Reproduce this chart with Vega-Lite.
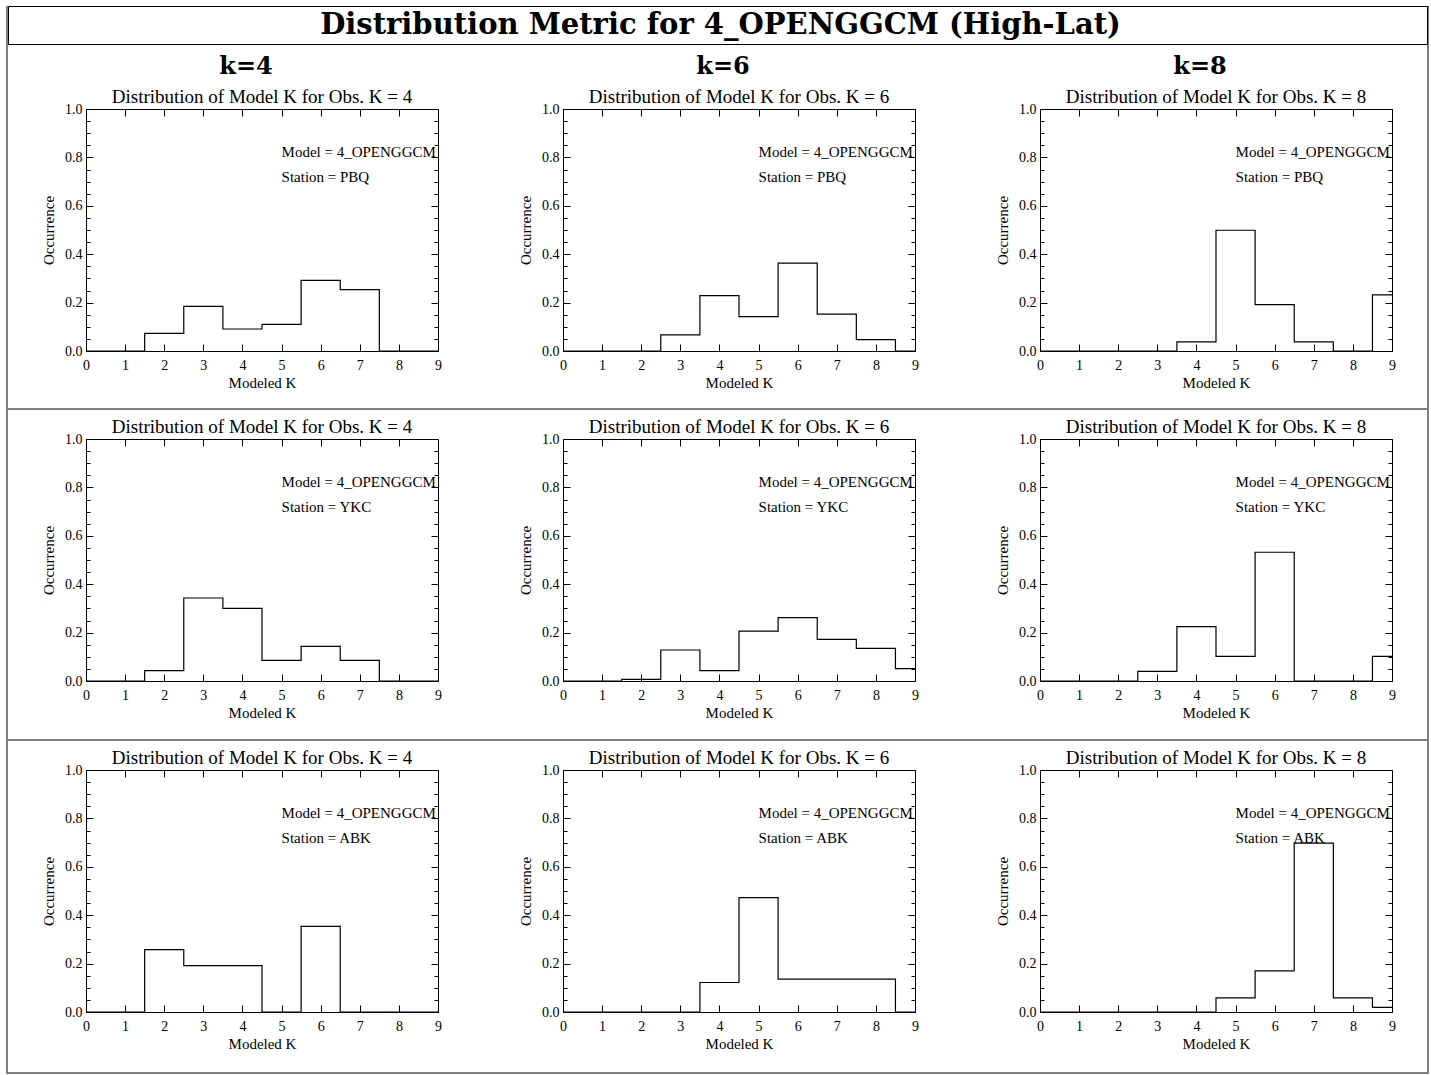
{
  "$schema": "https://vega.github.io/schema/vega-lite/v6.json",
  "padding": {"left": 6, "top": 5, "right": 5, "bottom": 1},
  "background": "white",
  "config": {
    "font": "Liberation Serif",
    "view": {"stroke": null},
    "axis": {"labelFont": "Liberation Serif", "titleFont": "Liberation Serif", "labelColor": "black", "titleColor": "black", "domainColor": "black", "tickColor": "black", "labelFontSize": 14, "titleFontSize": 15, "titleFontWeight": "normal", "grid": false, "labelFlush": false, "labelOverlap": false, "domainWidth": 1, "tickWidth": 1},
    "title": {"font": "Liberation Serif", "fontSize": 19, "fontWeight": "normal", "color": "black", "frame": "group", "anchor": "middle", "offset": -5},
    "text": {"font": "Liberation Serif", "color": "black"},
    "rule": {"color": "black", "strokeWidth": 1}
  },
  "datasets": {
    "one": [{"n": 1}],
    "cols": [{"col": "k=4"}, {"col": "k=6"}, {"col": "k=8"}],
    "head": [{"t": "Distribution Metric for 4_OPENGGCM (High-Lat)"}],
    "ann": [
      {"st": "PBQ", "model": "Model = 4_OPENGGCM", "station": "Station = PBQ"},
      {"st": "YKC", "model": "Model = 4_OPENGGCM", "station": "Station = YKC"},
      {"st": "ABK", "model": "Model = 4_OPENGGCM", "station": "Station = ABK"}
    ],
    "hist": [
      {"st":"PBQ","obs":4,"k":0,"occ":0},{"st":"PBQ","obs":4,"k":1,"occ":0},{"st":"PBQ","obs":4,"k":2,"occ":0.073},{"st":"PBQ","obs":4,"k":3,"occ":0.184},{"st":"PBQ","obs":4,"k":4,"occ":0.091},{"st":"PBQ","obs":4,"k":5,"occ":0.11},{"st":"PBQ","obs":4,"k":6,"occ":0.292},{"st":"PBQ","obs":4,"k":7,"occ":0.254},{"st":"PBQ","obs":4,"k":8,"occ":0},{"st":"PBQ","obs":4,"k":9,"occ":0},
      {"st":"PBQ","obs":6,"k":0,"occ":0},{"st":"PBQ","obs":6,"k":1,"occ":0},{"st":"PBQ","obs":6,"k":2,"occ":0},{"st":"PBQ","obs":6,"k":3,"occ":0.067},{"st":"PBQ","obs":6,"k":4,"occ":0.229},{"st":"PBQ","obs":6,"k":5,"occ":0.142},{"st":"PBQ","obs":6,"k":6,"occ":0.363},{"st":"PBQ","obs":6,"k":7,"occ":0.152},{"st":"PBQ","obs":6,"k":8,"occ":0.047},{"st":"PBQ","obs":6,"k":9,"occ":0},
      {"st":"PBQ","obs":8,"k":0,"occ":0},{"st":"PBQ","obs":8,"k":1,"occ":0},{"st":"PBQ","obs":8,"k":2,"occ":0},{"st":"PBQ","obs":8,"k":3,"occ":0},{"st":"PBQ","obs":8,"k":4,"occ":0.038},{"st":"PBQ","obs":8,"k":5,"occ":0.499},{"st":"PBQ","obs":8,"k":6,"occ":0.192},{"st":"PBQ","obs":8,"k":7,"occ":0.038},{"st":"PBQ","obs":8,"k":8,"occ":0},{"st":"PBQ","obs":8,"k":9,"occ":0.232},
      {"st":"YKC","obs":4,"k":0,"occ":0},{"st":"YKC","obs":4,"k":1,"occ":0},{"st":"YKC","obs":4,"k":2,"occ":0.043},{"st":"YKC","obs":4,"k":3,"occ":0.343},{"st":"YKC","obs":4,"k":4,"occ":0.3},{"st":"YKC","obs":4,"k":5,"occ":0.085},{"st":"YKC","obs":4,"k":6,"occ":0.143},{"st":"YKC","obs":4,"k":7,"occ":0.085},{"st":"YKC","obs":4,"k":8,"occ":0},{"st":"YKC","obs":4,"k":9,"occ":0},
      {"st":"YKC","obs":6,"k":0,"occ":0},{"st":"YKC","obs":6,"k":1,"occ":0},{"st":"YKC","obs":6,"k":2,"occ":0.007},{"st":"YKC","obs":6,"k":3,"occ":0.128},{"st":"YKC","obs":6,"k":4,"occ":0.043},{"st":"YKC","obs":6,"k":5,"occ":0.206},{"st":"YKC","obs":6,"k":6,"occ":0.262},{"st":"YKC","obs":6,"k":7,"occ":0.172},{"st":"YKC","obs":6,"k":8,"occ":0.135},{"st":"YKC","obs":6,"k":9,"occ":0.051},
      {"st":"YKC","obs":8,"k":0,"occ":0},{"st":"YKC","obs":8,"k":1,"occ":0},{"st":"YKC","obs":8,"k":2,"occ":0},{"st":"YKC","obs":8,"k":3,"occ":0.04},{"st":"YKC","obs":8,"k":4,"occ":0.225},{"st":"YKC","obs":8,"k":5,"occ":0.102},{"st":"YKC","obs":8,"k":6,"occ":0.532},{"st":"YKC","obs":8,"k":7,"occ":0},{"st":"YKC","obs":8,"k":8,"occ":0},{"st":"YKC","obs":8,"k":9,"occ":0.102},
      {"st":"ABK","obs":4,"k":0,"occ":0},{"st":"ABK","obs":4,"k":1,"occ":0},{"st":"ABK","obs":4,"k":2,"occ":0.258},{"st":"ABK","obs":4,"k":3,"occ":0.192},{"st":"ABK","obs":4,"k":4,"occ":0.192},{"st":"ABK","obs":4,"k":5,"occ":0},{"st":"ABK","obs":4,"k":6,"occ":0.354},{"st":"ABK","obs":4,"k":7,"occ":0},{"st":"ABK","obs":4,"k":8,"occ":0},{"st":"ABK","obs":4,"k":9,"occ":0},
      {"st":"ABK","obs":6,"k":0,"occ":0},{"st":"ABK","obs":6,"k":1,"occ":0},{"st":"ABK","obs":6,"k":2,"occ":0},{"st":"ABK","obs":6,"k":3,"occ":0},{"st":"ABK","obs":6,"k":4,"occ":0.122},{"st":"ABK","obs":6,"k":5,"occ":0.473},{"st":"ABK","obs":6,"k":6,"occ":0.136},{"st":"ABK","obs":6,"k":7,"occ":0.136},{"st":"ABK","obs":6,"k":8,"occ":0.136},{"st":"ABK","obs":6,"k":9,"occ":0},
      {"st":"ABK","obs":8,"k":0,"occ":0},{"st":"ABK","obs":8,"k":1,"occ":0},{"st":"ABK","obs":8,"k":2,"occ":0},{"st":"ABK","obs":8,"k":3,"occ":0},{"st":"ABK","obs":8,"k":4,"occ":0},{"st":"ABK","obs":8,"k":5,"occ":0.058},{"st":"ABK","obs":8,"k":6,"occ":0.17},{"st":"ABK","obs":8,"k":7,"occ":0.698},{"st":"ABK","obs":8,"k":8,"occ":0.058},{"st":"ABK","obs":8,"k":9,"occ":0.019}
    ]
  },
  "hconcat": [
    {"width": 1, "height": 1068, "data": {"name": "one"}, "mark": {"type": "rule"}, "encoding": {"x": {"datum": 0, "type": "quantitative", "scale": {"domain": [0, 1]}, "axis": null}}},
    {
      "spacing": 8,
      "vconcat": [
        {"width": 1419, "height": 38, "view": {"stroke": "black", "strokeWidth": 1}, "data": {"name": "head"}, "mark": {"type": "text", "font": "DejaVu Serif", "fontWeight": "bold", "fontSize": 29, "baseline": "middle", "align": "center", "dx": 3}, "encoding": {"text": {"field": "t"}}},
        {"width": 1419, "height": 27, "data": {"name": "cols"}, "mark": {"type": "text", "font": "DejaVu Serif", "fontWeight": "bold", "fontSize": 24, "baseline": "middle", "align": "center"}, "encoding": {"x": {"field": "col", "type": "nominal", "scale": {"type": "point", "padding": 0, "range": [238, 1192]}, "axis": null}, "text": {"field": "col"}}},
        {
          "spacing": 32,
          "hconcat": [
            {"width": 1, "height": 1, "data": {"name": "one"}, "mark": {"type": "rule", "strokeOpacity": 0}, "encoding": {"x": {"datum": 0, "type": "quantitative", "scale": {"domain": [0, 1]}, "axis": null}}},
            {
              "spacing": 125, "bounds": "flush",
              "hconcat": [
                {"width": 352, "height": 242, "title": "Distribution of Model K for Obs. K = 4", "resolve": {"axis": {"x": "independent", "y": "independent"}}, "layer": [
                  {"data": {"name": "hist"}, "transform": [{"filter": "datum.st === 'PBQ' && datum.obs === 4"}], "mark": {"type": "line", "interpolate": "step", "color": "black", "strokeWidth": 1.2}, "encoding": {"x": {"field": "k", "type": "quantitative", "scale": {"domain": [0, 9], "nice": false, "zero": false}, "axis": {"orient": "bottom", "values": [0,1,2,3,4,5,6,7,8,9], "tickSize": -7, "labelPadding": 14, "title": "Modeled K", "titlePadding": 3}}, "y": {"field": "occ", "type": "quantitative", "scale": {"domain": [0, 1], "nice": false}, "axis": {"orient": "left", "values": [0,0.05,0.1,0.15,0.2,0.25,0.3,0.35,0.4,0.45,0.5,0.55,0.6,0.65,0.7,0.75,0.8,0.85,0.9,0.95,1], "labelExpr": "round(datum.value*20) % 4 === 0 ? format(datum.value, '.1f') : ''", "tickSize": {"condition": {"test": "round(datum.value*20) % 4 === 0", "value": -7}, "value": -4}, "labelPadding": 11, "title": "Occurrence", "titlePadding": 8}}}},
                  {"data": {"name": "hist"}, "transform": [{"filter": "datum.st === 'PBQ' && datum.obs === 4"}], "mark": {"type": "line", "interpolate": "step", "strokeOpacity": 0}, "encoding": {"x": {"field": "k", "type": "quantitative", "scale": {"domain": [0, 9], "nice": false, "zero": false}, "axis": {"orient": "top", "values": [0,1,2,3,4,5,6,7,8,9], "tickSize": -7, "labels": false, "title": null}}, "y": {"field": "occ", "type": "quantitative", "scale": {"domain": [0, 1], "nice": false}, "axis": {"orient": "right", "values": [0,0.05,0.1,0.15,0.2,0.25,0.3,0.35,0.4,0.45,0.5,0.55,0.6,0.65,0.7,0.75,0.8,0.85,0.9,0.95,1], "labels": false, "tickSize": {"condition": {"test": "round(datum.value*20) % 4 === 0", "value": -7}, "value": -4}, "title": null}}}},
                  {"data": {"name": "ann"}, "transform": [{"filter": "datum.st === 'PBQ'"}], "mark": {"type": "text", "align": "left", "baseline": "alphabetic", "fontSize": 15}, "encoding": {"x": {"datum": 5, "type": "quantitative", "axis": null}, "y": {"datum": 0.8, "type": "quantitative", "axis": null}, "text": {"field": "model"}}},
                  {"data": {"name": "ann"}, "transform": [{"filter": "datum.st === 'PBQ'"}], "mark": {"type": "text", "align": "left", "baseline": "alphabetic", "fontSize": 15}, "encoding": {"x": {"datum": 5, "type": "quantitative", "axis": null}, "y": {"datum": 0.7, "type": "quantitative", "axis": null}, "text": {"field": "station"}}}
                ]},
                {"width": 352, "height": 242, "title": "Distribution of Model K for Obs. K = 6", "resolve": {"axis": {"x": "independent", "y": "independent"}}, "layer": [
                  {"data": {"name": "hist"}, "transform": [{"filter": "datum.st === 'PBQ' && datum.obs === 6"}], "mark": {"type": "line", "interpolate": "step", "color": "black", "strokeWidth": 1.2}, "encoding": {"x": {"field": "k", "type": "quantitative", "scale": {"domain": [0, 9], "nice": false, "zero": false}, "axis": {"orient": "bottom", "values": [0,1,2,3,4,5,6,7,8,9], "tickSize": -7, "labelPadding": 14, "title": "Modeled K", "titlePadding": 3}}, "y": {"field": "occ", "type": "quantitative", "scale": {"domain": [0, 1], "nice": false}, "axis": {"orient": "left", "values": [0,0.05,0.1,0.15,0.2,0.25,0.3,0.35,0.4,0.45,0.5,0.55,0.6,0.65,0.7,0.75,0.8,0.85,0.9,0.95,1], "labelExpr": "round(datum.value*20) % 4 === 0 ? format(datum.value, '.1f') : ''", "tickSize": {"condition": {"test": "round(datum.value*20) % 4 === 0", "value": -7}, "value": -4}, "labelPadding": 11, "title": "Occurrence", "titlePadding": 8}}}},
                  {"data": {"name": "hist"}, "transform": [{"filter": "datum.st === 'PBQ' && datum.obs === 6"}], "mark": {"type": "line", "interpolate": "step", "strokeOpacity": 0}, "encoding": {"x": {"field": "k", "type": "quantitative", "scale": {"domain": [0, 9], "nice": false, "zero": false}, "axis": {"orient": "top", "values": [0,1,2,3,4,5,6,7,8,9], "tickSize": -7, "labels": false, "title": null}}, "y": {"field": "occ", "type": "quantitative", "scale": {"domain": [0, 1], "nice": false}, "axis": {"orient": "right", "values": [0,0.05,0.1,0.15,0.2,0.25,0.3,0.35,0.4,0.45,0.5,0.55,0.6,0.65,0.7,0.75,0.8,0.85,0.9,0.95,1], "labels": false, "tickSize": {"condition": {"test": "round(datum.value*20) % 4 === 0", "value": -7}, "value": -4}, "title": null}}}},
                  {"data": {"name": "ann"}, "transform": [{"filter": "datum.st === 'PBQ'"}], "mark": {"type": "text", "align": "left", "baseline": "alphabetic", "fontSize": 15}, "encoding": {"x": {"datum": 5, "type": "quantitative", "axis": null}, "y": {"datum": 0.8, "type": "quantitative", "axis": null}, "text": {"field": "model"}}},
                  {"data": {"name": "ann"}, "transform": [{"filter": "datum.st === 'PBQ'"}], "mark": {"type": "text", "align": "left", "baseline": "alphabetic", "fontSize": 15}, "encoding": {"x": {"datum": 5, "type": "quantitative", "axis": null}, "y": {"datum": 0.7, "type": "quantitative", "axis": null}, "text": {"field": "station"}}}
                ]},
                {"width": 352, "height": 242, "title": "Distribution of Model K for Obs. K = 8", "resolve": {"axis": {"x": "independent", "y": "independent"}}, "layer": [
                  {"data": {"name": "hist"}, "transform": [{"filter": "datum.st === 'PBQ' && datum.obs === 8"}], "mark": {"type": "line", "interpolate": "step", "color": "black", "strokeWidth": 1.2}, "encoding": {"x": {"field": "k", "type": "quantitative", "scale": {"domain": [0, 9], "nice": false, "zero": false}, "axis": {"orient": "bottom", "values": [0,1,2,3,4,5,6,7,8,9], "tickSize": -7, "labelPadding": 14, "title": "Modeled K", "titlePadding": 3}}, "y": {"field": "occ", "type": "quantitative", "scale": {"domain": [0, 1], "nice": false}, "axis": {"orient": "left", "values": [0,0.05,0.1,0.15,0.2,0.25,0.3,0.35,0.4,0.45,0.5,0.55,0.6,0.65,0.7,0.75,0.8,0.85,0.9,0.95,1], "labelExpr": "round(datum.value*20) % 4 === 0 ? format(datum.value, '.1f') : ''", "tickSize": {"condition": {"test": "round(datum.value*20) % 4 === 0", "value": -7}, "value": -4}, "labelPadding": 11, "title": "Occurrence", "titlePadding": 8}}}},
                  {"data": {"name": "hist"}, "transform": [{"filter": "datum.st === 'PBQ' && datum.obs === 8"}], "mark": {"type": "line", "interpolate": "step", "strokeOpacity": 0}, "encoding": {"x": {"field": "k", "type": "quantitative", "scale": {"domain": [0, 9], "nice": false, "zero": false}, "axis": {"orient": "top", "values": [0,1,2,3,4,5,6,7,8,9], "tickSize": -7, "labels": false, "title": null}}, "y": {"field": "occ", "type": "quantitative", "scale": {"domain": [0, 1], "nice": false}, "axis": {"orient": "right", "values": [0,0.05,0.1,0.15,0.2,0.25,0.3,0.35,0.4,0.45,0.5,0.55,0.6,0.65,0.7,0.75,0.8,0.85,0.9,0.95,1], "labels": false, "tickSize": {"condition": {"test": "round(datum.value*20) % 4 === 0", "value": -7}, "value": -4}, "title": null}}}},
                  {"data": {"name": "ann"}, "transform": [{"filter": "datum.st === 'PBQ'"}], "mark": {"type": "text", "align": "left", "baseline": "alphabetic", "fontSize": 15}, "encoding": {"x": {"datum": 5, "type": "quantitative", "axis": null}, "y": {"datum": 0.8, "type": "quantitative", "axis": null}, "text": {"field": "model"}}},
                  {"data": {"name": "ann"}, "transform": [{"filter": "datum.st === 'PBQ'"}], "mark": {"type": "text", "align": "left", "baseline": "alphabetic", "fontSize": 15}, "encoding": {"x": {"datum": 5, "type": "quantitative", "axis": null}, "y": {"datum": 0.7, "type": "quantitative", "axis": null}, "text": {"field": "station"}}}
                ]}
              ]
            }
          ]
        },
        {"width": 1419, "height": 11, "data": {"name": "one"}, "mark": {"type": "rule"}, "encoding": {"y": {"datum": 0, "type": "quantitative", "scale": {"domain": [0, 1]}, "axis": null}}},
        {
          "spacing": 32,
          "hconcat": [
            {"width": 1, "height": 1, "data": {"name": "one"}, "mark": {"type": "rule", "strokeOpacity": 0}, "encoding": {"x": {"datum": 0, "type": "quantitative", "scale": {"domain": [0, 1]}, "axis": null}}},
            {
              "spacing": 125, "bounds": "flush",
              "hconcat": [
                {"width": 352, "height": 242, "title": "Distribution of Model K for Obs. K = 4", "resolve": {"axis": {"x": "independent", "y": "independent"}}, "layer": [
                  {"data": {"name": "hist"}, "transform": [{"filter": "datum.st === 'YKC' && datum.obs === 4"}], "mark": {"type": "line", "interpolate": "step", "color": "black", "strokeWidth": 1.2}, "encoding": {"x": {"field": "k", "type": "quantitative", "scale": {"domain": [0, 9], "nice": false, "zero": false}, "axis": {"orient": "bottom", "values": [0,1,2,3,4,5,6,7,8,9], "tickSize": -7, "labelPadding": 14, "title": "Modeled K", "titlePadding": 3}}, "y": {"field": "occ", "type": "quantitative", "scale": {"domain": [0, 1], "nice": false}, "axis": {"orient": "left", "values": [0,0.05,0.1,0.15,0.2,0.25,0.3,0.35,0.4,0.45,0.5,0.55,0.6,0.65,0.7,0.75,0.8,0.85,0.9,0.95,1], "labelExpr": "round(datum.value*20) % 4 === 0 ? format(datum.value, '.1f') : ''", "tickSize": {"condition": {"test": "round(datum.value*20) % 4 === 0", "value": -7}, "value": -4}, "labelPadding": 11, "title": "Occurrence", "titlePadding": 8}}}},
                  {"data": {"name": "hist"}, "transform": [{"filter": "datum.st === 'YKC' && datum.obs === 4"}], "mark": {"type": "line", "interpolate": "step", "strokeOpacity": 0}, "encoding": {"x": {"field": "k", "type": "quantitative", "scale": {"domain": [0, 9], "nice": false, "zero": false}, "axis": {"orient": "top", "values": [0,1,2,3,4,5,6,7,8,9], "tickSize": -7, "labels": false, "title": null}}, "y": {"field": "occ", "type": "quantitative", "scale": {"domain": [0, 1], "nice": false}, "axis": {"orient": "right", "values": [0,0.05,0.1,0.15,0.2,0.25,0.3,0.35,0.4,0.45,0.5,0.55,0.6,0.65,0.7,0.75,0.8,0.85,0.9,0.95,1], "labels": false, "tickSize": {"condition": {"test": "round(datum.value*20) % 4 === 0", "value": -7}, "value": -4}, "title": null}}}},
                  {"data": {"name": "ann"}, "transform": [{"filter": "datum.st === 'YKC'"}], "mark": {"type": "text", "align": "left", "baseline": "alphabetic", "fontSize": 15}, "encoding": {"x": {"datum": 5, "type": "quantitative", "axis": null}, "y": {"datum": 0.8, "type": "quantitative", "axis": null}, "text": {"field": "model"}}},
                  {"data": {"name": "ann"}, "transform": [{"filter": "datum.st === 'YKC'"}], "mark": {"type": "text", "align": "left", "baseline": "alphabetic", "fontSize": 15}, "encoding": {"x": {"datum": 5, "type": "quantitative", "axis": null}, "y": {"datum": 0.7, "type": "quantitative", "axis": null}, "text": {"field": "station"}}}
                ]},
                {"width": 352, "height": 242, "title": "Distribution of Model K for Obs. K = 6", "resolve": {"axis": {"x": "independent", "y": "independent"}}, "layer": [
                  {"data": {"name": "hist"}, "transform": [{"filter": "datum.st === 'YKC' && datum.obs === 6"}], "mark": {"type": "line", "interpolate": "step", "color": "black", "strokeWidth": 1.2}, "encoding": {"x": {"field": "k", "type": "quantitative", "scale": {"domain": [0, 9], "nice": false, "zero": false}, "axis": {"orient": "bottom", "values": [0,1,2,3,4,5,6,7,8,9], "tickSize": -7, "labelPadding": 14, "title": "Modeled K", "titlePadding": 3}}, "y": {"field": "occ", "type": "quantitative", "scale": {"domain": [0, 1], "nice": false}, "axis": {"orient": "left", "values": [0,0.05,0.1,0.15,0.2,0.25,0.3,0.35,0.4,0.45,0.5,0.55,0.6,0.65,0.7,0.75,0.8,0.85,0.9,0.95,1], "labelExpr": "round(datum.value*20) % 4 === 0 ? format(datum.value, '.1f') : ''", "tickSize": {"condition": {"test": "round(datum.value*20) % 4 === 0", "value": -7}, "value": -4}, "labelPadding": 11, "title": "Occurrence", "titlePadding": 8}}}},
                  {"data": {"name": "hist"}, "transform": [{"filter": "datum.st === 'YKC' && datum.obs === 6"}], "mark": {"type": "line", "interpolate": "step", "strokeOpacity": 0}, "encoding": {"x": {"field": "k", "type": "quantitative", "scale": {"domain": [0, 9], "nice": false, "zero": false}, "axis": {"orient": "top", "values": [0,1,2,3,4,5,6,7,8,9], "tickSize": -7, "labels": false, "title": null}}, "y": {"field": "occ", "type": "quantitative", "scale": {"domain": [0, 1], "nice": false}, "axis": {"orient": "right", "values": [0,0.05,0.1,0.15,0.2,0.25,0.3,0.35,0.4,0.45,0.5,0.55,0.6,0.65,0.7,0.75,0.8,0.85,0.9,0.95,1], "labels": false, "tickSize": {"condition": {"test": "round(datum.value*20) % 4 === 0", "value": -7}, "value": -4}, "title": null}}}},
                  {"data": {"name": "ann"}, "transform": [{"filter": "datum.st === 'YKC'"}], "mark": {"type": "text", "align": "left", "baseline": "alphabetic", "fontSize": 15}, "encoding": {"x": {"datum": 5, "type": "quantitative", "axis": null}, "y": {"datum": 0.8, "type": "quantitative", "axis": null}, "text": {"field": "model"}}},
                  {"data": {"name": "ann"}, "transform": [{"filter": "datum.st === 'YKC'"}], "mark": {"type": "text", "align": "left", "baseline": "alphabetic", "fontSize": 15}, "encoding": {"x": {"datum": 5, "type": "quantitative", "axis": null}, "y": {"datum": 0.7, "type": "quantitative", "axis": null}, "text": {"field": "station"}}}
                ]},
                {"width": 352, "height": 242, "title": "Distribution of Model K for Obs. K = 8", "resolve": {"axis": {"x": "independent", "y": "independent"}}, "layer": [
                  {"data": {"name": "hist"}, "transform": [{"filter": "datum.st === 'YKC' && datum.obs === 8"}], "mark": {"type": "line", "interpolate": "step", "color": "black", "strokeWidth": 1.2}, "encoding": {"x": {"field": "k", "type": "quantitative", "scale": {"domain": [0, 9], "nice": false, "zero": false}, "axis": {"orient": "bottom", "values": [0,1,2,3,4,5,6,7,8,9], "tickSize": -7, "labelPadding": 14, "title": "Modeled K", "titlePadding": 3}}, "y": {"field": "occ", "type": "quantitative", "scale": {"domain": [0, 1], "nice": false}, "axis": {"orient": "left", "values": [0,0.05,0.1,0.15,0.2,0.25,0.3,0.35,0.4,0.45,0.5,0.55,0.6,0.65,0.7,0.75,0.8,0.85,0.9,0.95,1], "labelExpr": "round(datum.value*20) % 4 === 0 ? format(datum.value, '.1f') : ''", "tickSize": {"condition": {"test": "round(datum.value*20) % 4 === 0", "value": -7}, "value": -4}, "labelPadding": 11, "title": "Occurrence", "titlePadding": 8}}}},
                  {"data": {"name": "hist"}, "transform": [{"filter": "datum.st === 'YKC' && datum.obs === 8"}], "mark": {"type": "line", "interpolate": "step", "strokeOpacity": 0}, "encoding": {"x": {"field": "k", "type": "quantitative", "scale": {"domain": [0, 9], "nice": false, "zero": false}, "axis": {"orient": "top", "values": [0,1,2,3,4,5,6,7,8,9], "tickSize": -7, "labels": false, "title": null}}, "y": {"field": "occ", "type": "quantitative", "scale": {"domain": [0, 1], "nice": false}, "axis": {"orient": "right", "values": [0,0.05,0.1,0.15,0.2,0.25,0.3,0.35,0.4,0.45,0.5,0.55,0.6,0.65,0.7,0.75,0.8,0.85,0.9,0.95,1], "labels": false, "tickSize": {"condition": {"test": "round(datum.value*20) % 4 === 0", "value": -7}, "value": -4}, "title": null}}}},
                  {"data": {"name": "ann"}, "transform": [{"filter": "datum.st === 'YKC'"}], "mark": {"type": "text", "align": "left", "baseline": "alphabetic", "fontSize": 15}, "encoding": {"x": {"datum": 5, "type": "quantitative", "axis": null}, "y": {"datum": 0.8, "type": "quantitative", "axis": null}, "text": {"field": "model"}}},
                  {"data": {"name": "ann"}, "transform": [{"filter": "datum.st === 'YKC'"}], "mark": {"type": "text", "align": "left", "baseline": "alphabetic", "fontSize": 15}, "encoding": {"x": {"datum": 5, "type": "quantitative", "axis": null}, "y": {"datum": 0.7, "type": "quantitative", "axis": null}, "text": {"field": "station"}}}
                ]}
              ]
            }
          ]
        },
        {"width": 1419, "height": 12, "data": {"name": "one"}, "mark": {"type": "rule"}, "encoding": {"y": {"datum": 0, "type": "quantitative", "scale": {"domain": [0, 1]}, "axis": null}}},
        {
          "spacing": 32,
          "hconcat": [
            {"width": 1, "height": 1, "data": {"name": "one"}, "mark": {"type": "rule", "strokeOpacity": 0}, "encoding": {"x": {"datum": 0, "type": "quantitative", "scale": {"domain": [0, 1]}, "axis": null}}},
            {
              "spacing": 125, "bounds": "flush",
              "hconcat": [
                {"width": 352, "height": 242, "title": "Distribution of Model K for Obs. K = 4", "resolve": {"axis": {"x": "independent", "y": "independent"}}, "layer": [
                  {"data": {"name": "hist"}, "transform": [{"filter": "datum.st === 'ABK' && datum.obs === 4"}], "mark": {"type": "line", "interpolate": "step", "color": "black", "strokeWidth": 1.2}, "encoding": {"x": {"field": "k", "type": "quantitative", "scale": {"domain": [0, 9], "nice": false, "zero": false}, "axis": {"orient": "bottom", "values": [0,1,2,3,4,5,6,7,8,9], "tickSize": -7, "labelPadding": 14, "title": "Modeled K", "titlePadding": 3}}, "y": {"field": "occ", "type": "quantitative", "scale": {"domain": [0, 1], "nice": false}, "axis": {"orient": "left", "values": [0,0.05,0.1,0.15,0.2,0.25,0.3,0.35,0.4,0.45,0.5,0.55,0.6,0.65,0.7,0.75,0.8,0.85,0.9,0.95,1], "labelExpr": "round(datum.value*20) % 4 === 0 ? format(datum.value, '.1f') : ''", "tickSize": {"condition": {"test": "round(datum.value*20) % 4 === 0", "value": -7}, "value": -4}, "labelPadding": 11, "title": "Occurrence", "titlePadding": 8}}}},
                  {"data": {"name": "hist"}, "transform": [{"filter": "datum.st === 'ABK' && datum.obs === 4"}], "mark": {"type": "line", "interpolate": "step", "strokeOpacity": 0}, "encoding": {"x": {"field": "k", "type": "quantitative", "scale": {"domain": [0, 9], "nice": false, "zero": false}, "axis": {"orient": "top", "values": [0,1,2,3,4,5,6,7,8,9], "tickSize": -7, "labels": false, "title": null}}, "y": {"field": "occ", "type": "quantitative", "scale": {"domain": [0, 1], "nice": false}, "axis": {"orient": "right", "values": [0,0.05,0.1,0.15,0.2,0.25,0.3,0.35,0.4,0.45,0.5,0.55,0.6,0.65,0.7,0.75,0.8,0.85,0.9,0.95,1], "labels": false, "tickSize": {"condition": {"test": "round(datum.value*20) % 4 === 0", "value": -7}, "value": -4}, "title": null}}}},
                  {"data": {"name": "ann"}, "transform": [{"filter": "datum.st === 'ABK'"}], "mark": {"type": "text", "align": "left", "baseline": "alphabetic", "fontSize": 15}, "encoding": {"x": {"datum": 5, "type": "quantitative", "axis": null}, "y": {"datum": 0.8, "type": "quantitative", "axis": null}, "text": {"field": "model"}}},
                  {"data": {"name": "ann"}, "transform": [{"filter": "datum.st === 'ABK'"}], "mark": {"type": "text", "align": "left", "baseline": "alphabetic", "fontSize": 15}, "encoding": {"x": {"datum": 5, "type": "quantitative", "axis": null}, "y": {"datum": 0.7, "type": "quantitative", "axis": null}, "text": {"field": "station"}}}
                ]},
                {"width": 352, "height": 242, "title": "Distribution of Model K for Obs. K = 6", "resolve": {"axis": {"x": "independent", "y": "independent"}}, "layer": [
                  {"data": {"name": "hist"}, "transform": [{"filter": "datum.st === 'ABK' && datum.obs === 6"}], "mark": {"type": "line", "interpolate": "step", "color": "black", "strokeWidth": 1.2}, "encoding": {"x": {"field": "k", "type": "quantitative", "scale": {"domain": [0, 9], "nice": false, "zero": false}, "axis": {"orient": "bottom", "values": [0,1,2,3,4,5,6,7,8,9], "tickSize": -7, "labelPadding": 14, "title": "Modeled K", "titlePadding": 3}}, "y": {"field": "occ", "type": "quantitative", "scale": {"domain": [0, 1], "nice": false}, "axis": {"orient": "left", "values": [0,0.05,0.1,0.15,0.2,0.25,0.3,0.35,0.4,0.45,0.5,0.55,0.6,0.65,0.7,0.75,0.8,0.85,0.9,0.95,1], "labelExpr": "round(datum.value*20) % 4 === 0 ? format(datum.value, '.1f') : ''", "tickSize": {"condition": {"test": "round(datum.value*20) % 4 === 0", "value": -7}, "value": -4}, "labelPadding": 11, "title": "Occurrence", "titlePadding": 8}}}},
                  {"data": {"name": "hist"}, "transform": [{"filter": "datum.st === 'ABK' && datum.obs === 6"}], "mark": {"type": "line", "interpolate": "step", "strokeOpacity": 0}, "encoding": {"x": {"field": "k", "type": "quantitative", "scale": {"domain": [0, 9], "nice": false, "zero": false}, "axis": {"orient": "top", "values": [0,1,2,3,4,5,6,7,8,9], "tickSize": -7, "labels": false, "title": null}}, "y": {"field": "occ", "type": "quantitative", "scale": {"domain": [0, 1], "nice": false}, "axis": {"orient": "right", "values": [0,0.05,0.1,0.15,0.2,0.25,0.3,0.35,0.4,0.45,0.5,0.55,0.6,0.65,0.7,0.75,0.8,0.85,0.9,0.95,1], "labels": false, "tickSize": {"condition": {"test": "round(datum.value*20) % 4 === 0", "value": -7}, "value": -4}, "title": null}}}},
                  {"data": {"name": "ann"}, "transform": [{"filter": "datum.st === 'ABK'"}], "mark": {"type": "text", "align": "left", "baseline": "alphabetic", "fontSize": 15}, "encoding": {"x": {"datum": 5, "type": "quantitative", "axis": null}, "y": {"datum": 0.8, "type": "quantitative", "axis": null}, "text": {"field": "model"}}},
                  {"data": {"name": "ann"}, "transform": [{"filter": "datum.st === 'ABK'"}], "mark": {"type": "text", "align": "left", "baseline": "alphabetic", "fontSize": 15}, "encoding": {"x": {"datum": 5, "type": "quantitative", "axis": null}, "y": {"datum": 0.7, "type": "quantitative", "axis": null}, "text": {"field": "station"}}}
                ]},
                {"width": 352, "height": 242, "title": "Distribution of Model K for Obs. K = 8", "resolve": {"axis": {"x": "independent", "y": "independent"}}, "layer": [
                  {"data": {"name": "hist"}, "transform": [{"filter": "datum.st === 'ABK' && datum.obs === 8"}], "mark": {"type": "line", "interpolate": "step", "color": "black", "strokeWidth": 1.2}, "encoding": {"x": {"field": "k", "type": "quantitative", "scale": {"domain": [0, 9], "nice": false, "zero": false}, "axis": {"orient": "bottom", "values": [0,1,2,3,4,5,6,7,8,9], "tickSize": -7, "labelPadding": 14, "title": "Modeled K", "titlePadding": 3}}, "y": {"field": "occ", "type": "quantitative", "scale": {"domain": [0, 1], "nice": false}, "axis": {"orient": "left", "values": [0,0.05,0.1,0.15,0.2,0.25,0.3,0.35,0.4,0.45,0.5,0.55,0.6,0.65,0.7,0.75,0.8,0.85,0.9,0.95,1], "labelExpr": "round(datum.value*20) % 4 === 0 ? format(datum.value, '.1f') : ''", "tickSize": {"condition": {"test": "round(datum.value*20) % 4 === 0", "value": -7}, "value": -4}, "labelPadding": 11, "title": "Occurrence", "titlePadding": 8}}}},
                  {"data": {"name": "hist"}, "transform": [{"filter": "datum.st === 'ABK' && datum.obs === 8"}], "mark": {"type": "line", "interpolate": "step", "strokeOpacity": 0}, "encoding": {"x": {"field": "k", "type": "quantitative", "scale": {"domain": [0, 9], "nice": false, "zero": false}, "axis": {"orient": "top", "values": [0,1,2,3,4,5,6,7,8,9], "tickSize": -7, "labels": false, "title": null}}, "y": {"field": "occ", "type": "quantitative", "scale": {"domain": [0, 1], "nice": false}, "axis": {"orient": "right", "values": [0,0.05,0.1,0.15,0.2,0.25,0.3,0.35,0.4,0.45,0.5,0.55,0.6,0.65,0.7,0.75,0.8,0.85,0.9,0.95,1], "labels": false, "tickSize": {"condition": {"test": "round(datum.value*20) % 4 === 0", "value": -7}, "value": -4}, "title": null}}}},
                  {"data": {"name": "ann"}, "transform": [{"filter": "datum.st === 'ABK'"}], "mark": {"type": "text", "align": "left", "baseline": "alphabetic", "fontSize": 15}, "encoding": {"x": {"datum": 5, "type": "quantitative", "axis": null}, "y": {"datum": 0.8, "type": "quantitative", "axis": null}, "text": {"field": "model"}}},
                  {"data": {"name": "ann"}, "transform": [{"filter": "datum.st === 'ABK'"}], "mark": {"type": "text", "align": "left", "baseline": "alphabetic", "fontSize": 15}, "encoding": {"x": {"datum": 5, "type": "quantitative", "axis": null}, "y": {"datum": 0.7, "type": "quantitative", "axis": null}, "text": {"field": "station"}}}
                ]}
              ]
            }
          ]
        },
        {"width": 1419, "height": 14, "data": {"name": "one"}, "mark": {"type": "rule"}, "encoding": {"y": {"datum": 0, "type": "quantitative", "scale": {"domain": [0, 1]}, "axis": null}}}
      ]
    },
    {"width": 1, "height": 1068, "data": {"name": "one"}, "mark": {"type": "rule"}, "encoding": {"x": {"datum": 0, "type": "quantitative", "scale": {"domain": [0, 1]}, "axis": null}}}
  ],
  "spacing": -2
}
